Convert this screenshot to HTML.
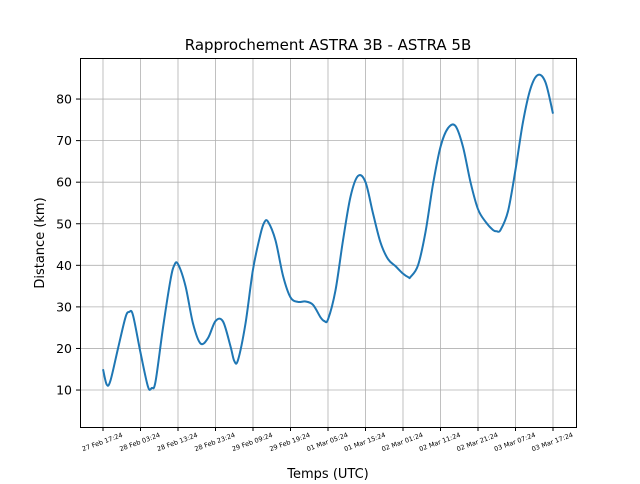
<!DOCTYPE html>
<html><head><meta charset="utf-8"><style>
body{margin:0;background:#fff;font-family:"DejaVu Sans","Liberation Sans",sans-serif}
</style></head><body>
<svg id="chart" width="640" height="480" xmlns="http://www.w3.org/2000/svg" font-family="DejaVu Sans, Liberation Sans, sans-serif">
<rect width="640" height="480" fill="#fff"/>
<g id="grid"></g>
<path id="line" fill="none" stroke="#1f77b4" stroke-width="2" stroke-linejoin="round"/>
<rect x="80.5" y="58.5" width="496" height="369" fill="none" stroke="#000" stroke-width="1"/>
<g id="ticks"></g>
<text x="328" y="50" text-anchor="middle" font-size="15">Rapprochement ASTRA 3B - ASTRA 5B</text>
<text x="328" y="478" text-anchor="middle" font-size="13">Temps (UTC)</text>
<text x="0" y="0" transform="translate(44,243) rotate(-90)" text-anchor="middle" font-size="13">Distance (km)</text>
</svg>
<script>
const hours = [0,1,2,4,6,7,8,10,12,13,14,16,18,19,20,22,24,26,28,30,32,34,35,36,38,40,42,43,44,46,48,50,52,54,56,58,59,60,62,64,66,68,70,72,74,76,78,80,81.5,82,84,86,88,90,92,94,96,98,100,102,104,105,106,108,110,112,114,116,118,120];
const distances = [15,11.3,12.3,20,27.5,28.8,28,19,10.8,10.5,12,25,36.5,40,40.3,35,26,21.2,22.5,26.6,26.5,20.5,17,17.2,26,39,47.5,50.3,50.5,46,37.5,32.3,31.2,31.3,30.5,27.5,26.6,27,34,46,56.5,61.5,60,52.5,45.5,41.5,39.8,38,37.1,37.2,40,48,59.5,68.5,73,73.5,68.5,60,53.5,50.5,48.5,48.2,48.5,53,63,74.5,82.5,85.8,84,76.5];
const xTickHours = [0,10,20,30,40,50,60,70,80,90,100,110,120];
const xTickLabels = ["27 Feb 17:24","28 Feb 03:24","28 Feb 13:24","28 Feb 23:24","29 Feb 09:24","29 Feb 19:24","01 Mar 05:24","01 Mar 15:24","02 Mar 01:24","02 Mar 11:24","02 Mar 21:24","03 Mar 07:24","03 Mar 17:24"];
const yTicks = [10,20,30,40,50,60,70,80];
const NS="http://www.w3.org/2000/svg";
const xs = h => 103 + h*3.75;
const ys = v => 431.6 - v*4.157;
const grid=document.getElementById('grid'), ticks=document.getElementById('ticks');
xTickHours.forEach((h,i)=>{
  const x=xs(h);
  const g=document.createElementNS(NS,'line');
  
  
  g.setAttribute('x1',x);g.setAttribute('x2',x);g.setAttribute('y1',58);g.setAttribute('y2',427);
  g.setAttribute('stroke','#b0b0b0');g.setAttribute('stroke-width','0.8');grid.appendChild(g);
  const t=document.createElementNS(NS,'line');
  
  
  t.setAttribute('x1',x);t.setAttribute('x2',x);t.setAttribute('y1',427);t.setAttribute('y2',431);
  t.setAttribute('stroke','#000');ticks.appendChild(t);
  const l=document.createElementNS(NS,'text');
  
  
  l.setAttribute('transform',`translate(${x},${444}) rotate(-20)`);
  l.setAttribute('text-anchor','middle');l.setAttribute('font-size','6.5');
  l.textContent=xTickLabels[i];ticks.appendChild(l);
});
yTicks.forEach(v=>{
  const y=ys(v);
  const g=document.createElementNS(NS,'line');
  
  
  g.setAttribute('x1',80);g.setAttribute('x2',576);g.setAttribute('y1',y);g.setAttribute('y2',y);
  g.setAttribute('stroke','#b0b0b0');g.setAttribute('stroke-width','0.8');grid.appendChild(g);
  const t=document.createElementNS(NS,'line');
  
  
  t.setAttribute('x1',76);t.setAttribute('x2',80);t.setAttribute('y1',y);t.setAttribute('y2',y);
  t.setAttribute('stroke','#000');ticks.appendChild(t);
  const l=document.createElementNS(NS,'text');
  
  
  l.setAttribute('x',72);l.setAttribute('y',y+4.5);l.setAttribute('text-anchor','end');l.setAttribute('font-size','12.5');
  l.textContent=v;ticks.appendChild(l);
});
// Catmull-Rom smoothed path
const P=hours.map((h,i)=>[xs(h),ys(distances[i])]);
let d='M'+P[0][0]+','+P[0][1];
for(let i=0;i<P.length-1;i++){
  const p0=P[Math.max(i-1,0)],p1=P[i],p2=P[i+1],p3=P[Math.min(i+2,P.length-1)];
  const c1=[p1[0]+(p2[0]-p0[0])/6,p1[1]+(p2[1]-p0[1])/6];
  const c2=[p2[0]-(p3[0]-p1[0])/6,p2[1]-(p3[1]-p1[1])/6];
  d+=` C${c1[0]},${c1[1]} ${c2[0]},${c2[1]} ${p2[0]},${p2[1]}`;
}
document.getElementById('line').setAttribute('d',d);
</script>
</body></html>
